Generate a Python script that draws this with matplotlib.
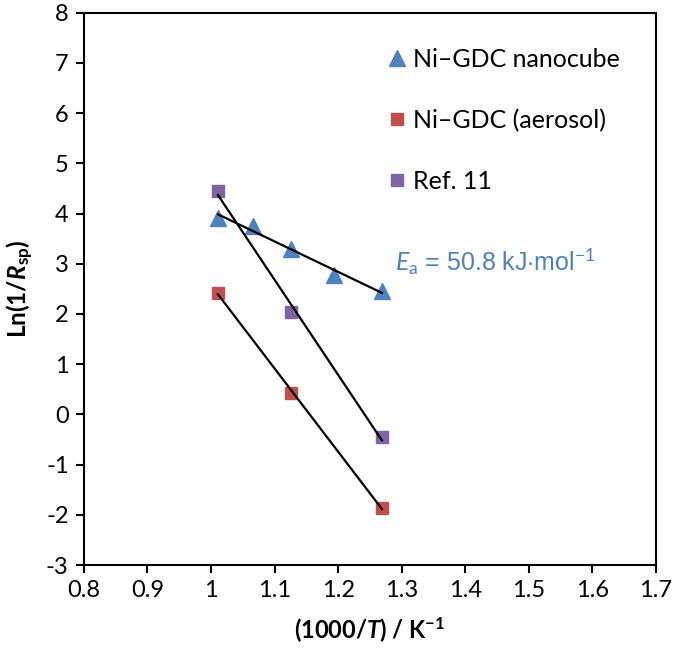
import numpy as np
import matplotlib
matplotlib.use("Agg")
import matplotlib.pyplot as plt

# data
x_cube = [1.011, 1.066, 1.126, 1.194, 1.269]
y_cube = [3.92, 3.76, 3.30, 2.78, 2.46]
x_aero = [1.011, 1.126, 1.269]
y_aero = [2.42, 0.43, -1.86]
x_ref = [1.011, 1.126, 1.269]
y_ref = [4.45, 2.04, -0.45]

labels = ["Ni\u2013GDC nanocube", "Ni\u2013GDC (aerosol)", "Ref. 11"]
c_blue = "#4F81BD"
c_red = "#C0504D"
c_purple = "#8064A2"

plt.rcParams["font.family"] = ["Lato", "DejaVu Sans"]
plt.rcParams["axes.unicode_minus"] = False
plt.rcParams["mathtext.fontset"] = "custom"
plt.rcParams["mathtext.rm"] = "Lato"
plt.rcParams["mathtext.it"] = "Lato:italic"
plt.rcParams["mathtext.bf"] = "Lato:bold"
plt.rcParams["mathtext.bfit"] = "Lato:bold:italic"

fig = plt.figure(figsize=(6.75, 6.49), dpi=100)
ax = fig.add_axes([0.1244, 0.1294, 0.847, 0.851])


def trend(x, y):
    k, b = np.polyfit(x, y, 1)
    xs = np.array([min(x), max(x)])
    ax.plot(xs, k * xs + b, color="black", lw=1.6, zorder=3)


trend(x_cube, y_cube)
trend(x_aero, y_aero)
trend(x_ref, y_ref)

ax.plot(x_cube, y_cube, "^", color=c_blue, ms=12, ls="none", label=labels[0], zorder=2)
ax.plot(x_aero, y_aero, "s", color=c_red, ms=8.5, ls="none", label=labels[1], zorder=2)
ax.plot(x_ref, y_ref, "s", color=c_purple, ms=8.5, ls="none", label=labels[2], zorder=2)

ax.set_xlim(0.8, 1.7)
ax.set_ylim(-3, 8)
ax.set_xticks(np.arange(0.8, 1.71, 0.1))
ax.set_xticklabels(["0.8", "0.9", "1", "1.1", "1.2", "1.3", "1.4", "1.5", "1.6", "1.7"])
ax.set_yticks(range(-3, 9))
ax.tick_params(direction="out", length=6, width=1.5, labelsize=17, pad=5,
               top=False, right=False)
for s in ax.spines.values():
    s.set_linewidth(1.5)

ax.set_xlabel(r"(1000/$\mathbfit{T}$) / K$^{\mathbf{-1}}$", fontsize=17,
              fontweight="bold", labelpad=10)
ax.set_ylabel(r"Ln(1/$\mathbfit{R}_{\mathbf{sp}}$)", fontsize=17.5,
              fontweight="bold", labelpad=8)

ax.text(1.289, 3.04, r"$\mathit{E}_{\mathrm{a}}$ = 50.8 kJ$\cdot$mol$^{\mathrm{-1}}$",
        color=c_blue, fontsize=18, va="center", ha="left",
        family=["Liberation Sans", "DejaVu Sans"])

ax.legend(loc="upper left", bbox_to_anchor=(0.53, 0.937), frameon=False,
          fontsize=18, labelspacing=1.52, handlelength=0.8, handletextpad=0.25,
          borderaxespad=0, borderpad=0)

fig.savefig("out.png", dpi=100)
